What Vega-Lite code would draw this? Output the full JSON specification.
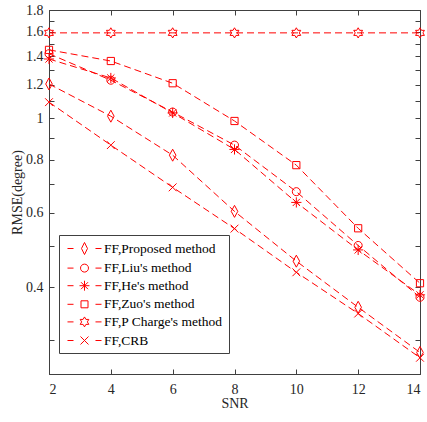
{
  "$schema": "https://vega.github.io/schema/vega-lite/v6.json",
  "width": 371,
  "height": 364,
  "autosize": "none",
  "padding": {"left": 49, "top": 10, "right": 7, "bottom": 48},
  "background": "white",
  "config": {
    "view": {"stroke": "#404040", "strokeWidth": 1},
    "axis": {
      "grid": false,
      "domainColor": "#404040",
      "tickColor": "#404040",
      "labelColor": "#262626",
      "titleColor": "#262626",
      "labelFont": "Liberation Serif",
      "titleFont": "Liberation Serif",
      "labelFontSize": 14,
      "titleFontSize": 14,
      "titleFontWeight": "normal",
      "tickSize": -5
    },
    "legend": {
      "labelFont": "Liberation Serif",
      "labelFontSize": 14,
      "labelColor": "#000000",
      "labelLimit": 300
    }
  },
  "data": {
    "values": [
      {"snr": 2, "rmse": 1.205, "method": "FF,Proposed method"},
      {"snr": 4, "rmse": 1.012, "method": "FF,Proposed method"},
      {"snr": 6, "rmse": 0.819, "method": "FF,Proposed method"},
      {"snr": 8, "rmse": 0.604, "method": "FF,Proposed method"},
      {"snr": 10, "rmse": 0.461, "method": "FF,Proposed method"},
      {"snr": 12, "rmse": 0.359, "method": "FF,Proposed method"},
      {"snr": 14, "rmse": 0.281, "method": "FF,Proposed method"},
      {"snr": 2, "rmse": 1.42, "method": "FF,Liu's method"},
      {"snr": 4, "rmse": 1.23, "method": "FF,Liu's method"},
      {"snr": 6, "rmse": 1.035, "method": "FF,Liu's method"},
      {"snr": 8, "rmse": 0.865, "method": "FF,Liu's method"},
      {"snr": 10, "rmse": 0.672, "method": "FF,Liu's method"},
      {"snr": 12, "rmse": 0.502, "method": "FF,Liu's method"},
      {"snr": 14, "rmse": 0.379, "method": "FF,Liu's method"},
      {"snr": 2, "rmse": 1.38, "method": "FF,He's method"},
      {"snr": 4, "rmse": 1.245, "method": "FF,He's method"},
      {"snr": 6, "rmse": 1.03, "method": "FF,He's method"},
      {"snr": 8, "rmse": 0.845, "method": "FF,He's method"},
      {"snr": 10, "rmse": 0.634, "method": "FF,He's method"},
      {"snr": 12, "rmse": 0.49, "method": "FF,He's method"},
      {"snr": 14, "rmse": 0.384, "method": "FF,He's method"},
      {"snr": 2, "rmse": 1.45, "method": "FF,Zuo's method"},
      {"snr": 4, "rmse": 1.365, "method": "FF,Zuo's method"},
      {"snr": 6, "rmse": 1.21, "method": "FF,Zuo's method"},
      {"snr": 8, "rmse": 0.986, "method": "FF,Zuo's method"},
      {"snr": 10, "rmse": 0.776, "method": "FF,Zuo's method"},
      {"snr": 12, "rmse": 0.551, "method": "FF,Zuo's method"},
      {"snr": 14, "rmse": 0.409, "method": "FF,Zuo's method"},
      {"snr": 2, "rmse": 1.59, "method": "FF,P Charge's method"},
      {"snr": 4, "rmse": 1.59, "method": "FF,P Charge's method"},
      {"snr": 6, "rmse": 1.59, "method": "FF,P Charge's method"},
      {"snr": 8, "rmse": 1.59, "method": "FF,P Charge's method"},
      {"snr": 10, "rmse": 1.59, "method": "FF,P Charge's method"},
      {"snr": 12, "rmse": 1.59, "method": "FF,P Charge's method"},
      {"snr": 14, "rmse": 1.59, "method": "FF,P Charge's method"},
      {"snr": 2, "rmse": 1.092, "method": "FF,CRB"},
      {"snr": 4, "rmse": 0.865, "method": "FF,CRB"},
      {"snr": 6, "rmse": 0.688, "method": "FF,CRB"},
      {"snr": 8, "rmse": 0.55, "method": "FF,CRB"},
      {"snr": 10, "rmse": 0.434, "method": "FF,CRB"},
      {"snr": 12, "rmse": 0.347, "method": "FF,CRB"},
      {"snr": 14, "rmse": 0.273, "method": "FF,CRB"}
    ]
  },
  "layer": [
    {
      "mark": {"type": "line", "stroke": "#ff0000", "strokeDash": [7, 4], "strokeWidth": 1},
      "encoding": {
        "x": {
          "field": "snr", "type": "quantitative",
          "scale": {"domain": [2, 14], "nice": false},
          "axis": {"orient": "bottom", "values": [2, 4, 6, 8, 10, 12, 14], "title": "SNR", "labelPadding": 13, "titlePadding": 0}
        },
        "y": {
          "field": "rmse", "type": "quantitative",
          "scale": {"type": "log", "domain": [0.25, 1.8], "nice": false},
          "axis": {
            "orient": "left",
            "values": [0.3, 0.4, 0.5, 0.6, 0.7, 0.8, 0.9, 1, 1.1, 1.2, 1.3, 1.4, 1.5, 1.6, 1.7, 1.8],
            "labelExpr": "(round(datum.value*10)%2==0 && datum.value>0.35) ? format(datum.value,'~g') : ''",
            "title": "RMSE(degree)", "labelPadding": 11, "titlePadding": 1
          }
        },
        "detail": {"field": "method"}
      }
    },
    {
      "mark": {"type": "point", "filled": false, "stroke": "#ff0000", "strokeWidth": 1, "size": 144, "opacity": 1},
      "encoding": {
        "x": {
          "field": "snr", "type": "quantitative",
          "axis": {"orient": "top", "values": [2, 4, 6, 8, 10, 12, 14], "labels": false, "title": null}
        },
        "y": {
          "field": "rmse", "type": "quantitative",
          "axis": {"orient": "right", "values": [0.3, 0.4, 0.5, 0.6, 0.7, 0.8, 0.9, 1, 1.1, 1.2, 1.3, 1.4, 1.5, 1.6, 1.7, 1.8], "labels": false, "title": null}
        },
        "shape": {
          "field": "method", "type": "nominal",
          "scale": {
            "domain": ["FF,Proposed method", "FF,Liu's method", "FF,He's method", "FF,Zuo's method", "FF,P Charge's method", "FF,CRB"],
            "range": [
              "M0,-1L0.55,0L0,1L-0.55,0Z",
              "M-0.67,0A0.67,0.67,0,1,0,0.67,0A0.67,0.67,0,1,0,-0.67,0Z",
              "M0,-0.85L0,0.85M-0.85,0L0.85,0M-0.6,-0.6L0.6,0.6M-0.6,0.6L0.6,-0.6",
              "M-0.6,-0.6L0.6,-0.6L0.6,0.6L-0.6,0.6Z",
              "M0,-0.85L0.245,-0.424L0.736,-0.425L0.49,0L0.736,0.425L0.245,0.424L0,0.85L-0.245,0.424L-0.736,0.425L-0.49,0L-0.736,-0.425L-0.245,-0.424Z",
              "M-0.65,-0.65L0.65,0.65M-0.65,0.65L0.65,-0.65"
            ]
          },
          "legend": null
        }
      }
    },
    {
      "mark": {"type": "point", "filled": false, "stroke": "#ff0000", "strokeWidth": 1, "opacity": 0},
      "encoding": {
        "x": {"field": "snr", "type": "quantitative", "axis": null},
        "y": {"field": "rmse", "type": "quantitative", "axis": null},
        "shape": {
          "field": "method", "type": "nominal",
          "scale": {
            "domain": ["FF,Proposed method", "FF,Liu's method", "FF,He's method", "FF,Zuo's method", "FF,P Charge's method", "FF,CRB"],
            "range": [
              "M-2.43,0L-1.57,0M1.57,0L2.43,0M0,-0.86L0.43,0L0,0.86L-0.43,0Z",
              "M-2.43,0L-1.57,0M1.57,0L2.43,0M-0.57,0A0.57,0.57,0,1,0,0.57,0A0.57,0.57,0,1,0,-0.57,0Z",
              "M-2.43,0L-1.57,0M1.57,0L2.43,0M0,-0.71L0,0.71M-0.71,0L0.71,0M-0.5,-0.5L0.5,0.5M-0.5,0.5L0.5,-0.5",
              "M-2.43,0L-1.57,0M1.57,0L2.43,0M-0.5,-0.5L0.5,-0.5L0.5,0.5L-0.5,0.5Z",
              "M-2.43,0L-1.57,0M1.57,0L2.43,0M0,-0.71L0.205,-0.355L0.615,-0.355L0.41,0L0.615,0.355L0.205,0.355L0,0.71L-0.205,0.355L-0.615,0.355L-0.41,0L-0.615,-0.355L-0.205,-0.355Z",
              "M-2.43,0L-1.57,0M1.57,0L2.43,0M-0.57,-0.57L0.57,0.57M-0.57,0.57L0.57,-0.57"
            ]
          },
          "legend": {
            "title": null,
            "orient": "none",
            "legendX": 10,
            "legendY": 225,
            "strokeColor": "#404040",
            "fillColor": "white",
            "padding": 6,
            "symbolSize": 196,
            "symbolOffset": 12,
            "symbolStrokeColor": "#ff0000",
            "symbolFillColor": "transparent",
            "symbolStrokeWidth": 1,
            "symbolOpacity": 1,
            "rowPadding": 3.6,
            "labelOffset": 12,
            "labelFont": "Liberation Serif",
            "labelFontSize": 13.5
          }
        }
      }
    }
  ],
  "resolve": {"scale": {"shape": "independent"}, "axis": {"x": "independent", "y": "independent"}}
}
